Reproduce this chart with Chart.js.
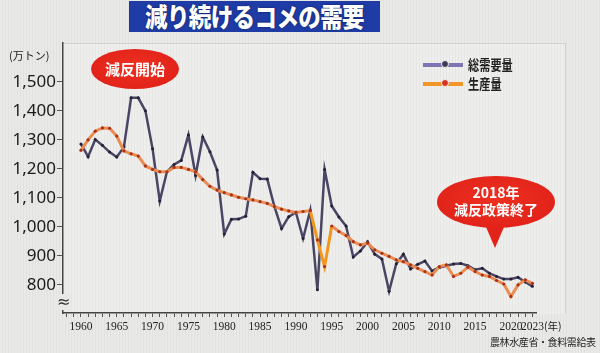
<!DOCTYPE html>
<html>
<head>
<meta charset="utf-8">
<script src="https://cdn.jsdelivr.net/npm/chart.js@4.4.0/dist/chart.umd.min.js"></script>
<style>
  html, body { margin: 0; padding: 0; }
  body {
    width: 600px; height: 353px; position: relative; overflow: hidden;
    background: repeating-linear-gradient(90deg, #e9e9e7 0 2px, #e1e1df 2px 3px);
    font-family: "Noto Sans CJK JP", "Noto Sans", sans-serif;
  }
  .panel { position: absolute; left: 63px; top: 43px; width: 502px; height: 270px;
    border-top: 1px solid #d2d2d0; border-right: 1px solid #d2d2d0;
    background: repeating-linear-gradient(90deg, #eeeeec 0 2px, #e6e6e4 2px 3px); }
  .title { position: absolute; left: 129px; top: 1px; width: 251px; height: 31px;
    background: #1f3ca6; color: #fff; text-align: center; font-weight: 900;
    font-size: 22.5px; line-height: 31px; letter-spacing: -0.6px; }
  .title span { display: inline-block; transform: scaleY(1.15); text-shadow: 0 0 2px #0a1a50; }
  #wrap { position: absolute; left: 0; top: 0; width: 600px; height: 353px; }
  .unit { position: absolute; left: 9px; top: 47px; font-size: 11px; color: #222; }
  .brk { position: absolute; left: 56px; top: 294px; font-size: 16px; line-height: 16px;
    color: #333; background: #e8e8e6; padding: 0 1px; font-family: "DejaVu Sans", sans-serif; }
  .nen { position: absolute; left: 544px; top: 318px; font-size: 10.5px; color: #222; }
  .src { position: absolute; left: 490px; top: 334px; font-size: 10px; color: #222; letter-spacing: -0.4px; white-space: nowrap; }
  .oval { position: absolute; left: 91px; top: 49px; width: 88px; height: 40px; border-radius: 50%;
    background: radial-gradient(ellipse at 50% 45%, #ee3020 0%, #e2231a 70%, #d41c14 100%);
    color: #fff; font-weight: 700; font-size: 15px; text-align: center; line-height: 40px; }
  .bubble { position: absolute; left: 437px; top: 176px; width: 118px; height: 52px; border-radius: 50%;
    background: radial-gradient(ellipse at 50% 45%, #ee3020 0%, #e2231a 70%, #d41c14 100%);
    color: #fff; font-weight: 700; font-size: 14px; text-align: center; line-height: 17px; }
  .bubble div:first-child { padding-top: 8px; }
  .tail { position: absolute; left: 483px; top: 220px; width: 24px; height: 28px; background: #e2231a;
    clip-path: polygon(0 0, 100% 0, 50% 100%); }
  .leg { position: absolute; left: 423px; font-size: 14px; color: #222; font-weight: 700; }
  .leg .ln { position: absolute; left: 0; top: 7px; width: 40px; height: 4px; }
  .leg .dt { position: absolute; left: 18px; top: 4px; width: 6px; height: 6px; border-radius: 50%; border: 1px solid #eee; }
  .leg .tx { position: absolute; left: 45px; top: -2px; white-space: nowrap; display: inline-block;
    transform: scaleX(0.8); transform-origin: left center; }
</style>
</head>
<body>
<div class="panel"></div>
<div class="title"><span>減り続けるコメの需要</span></div>
<div id="wrap"><canvas id="chart" width="600" height="353"></canvas></div>
<div class="unit">(万トン)</div>
<div class="brk">≈</div>
<div class="nen">(年)</div>
<div class="src">農林水産省・食料需給表</div>
<div class="oval">減反開始</div>
<div class="tail"></div>
<div class="bubble"><div>2018年</div><div>減反政策終了</div></div>
<div class="leg" style="top:56px"><div class="ln" style="background:#7e76b4"></div><div class="dt" style="background:#3e3a58"></div><div class="tx">総需要量</div></div>
<div class="leg" style="top:75px"><div class="ln" style="background:#f2962a"></div><div class="dt" style="background:#d8301e"></div><div class="tx">生産量</div></div>
<script>
const years = [];
for (let y = 1960; y <= 2023; y++) years.push(y);

// 総需要量 (purple line), 万トン
const demand = [
  1286, 1242, 1301, 1281, 1258, 1241, 1275, 1445, 1445, 1400,
  1269, 1089, 1190, 1215, 1229, 1317, 1177, 1310, 1259, 1196,
  975, 1026, 1027, 1037, 1188, 1166, 1165, 1070, 994, 1035,
  1050, 960, 1057, 783, 1198, 1072, 1034, 1003, 896, 917,
  949, 906, 889, 778, 873, 906, 855, 871, 882, 848,
  860, 866, 872, 874, 866, 852, 857, 840, 829, 820,
  820, 826, 810, 795
];

// 生産量 (orange line), 万トン
const production = [
  1264, 1300, 1330, 1341, 1340, 1313, 1262, 1252, 1244, 1210,
  1198, 1190, 1190, 1205, 1205, 1198, 1190, 1163, 1140, 1127,
  1118, 1110, 1102, 1097, 1093, 1087, 1081, 1070, 1061, 1055,
  1050, 1053, 1056, 955, 863, 1003, 984, 970, 949, 938,
  944, 921, 909, 898, 886, 880, 869, 857, 846, 834,
  863, 869, 829, 840, 861, 846, 834, 829, 815, 803,
  760, 800, 817, 805
];

const yTicks = [800, 900, 1000, 1100, 1200, 1300, 1400, 1500];
const xLabelYears = [1960, 1965, 1970, 1975, 1980, 1985, 1990, 1995, 2000, 2005, 2010, 2015, 2020, 2023];

const toPoints = (arr) => arr.map((v, i) => ({ x: years[i], y: v }));

new Chart(document.getElementById("chart"), {
  type: "line",
  data: {
    datasets: [
      {
        label: "生産量",
        data: toPoints(production),
        borderColor: "#e98d52",
        borderWidth: 3,
        pointRadius: 1.6,
        pointBackgroundColor: "#a8321c",
        pointBorderWidth: 0,
        tension: 0,
        segment: {
          borderColor: (ctx) => (ctx.p0.parsed.x >= 1992 && ctx.p1.parsed.x <= 1995) ? "#f2961e" : undefined,
        },
      },
      {
        label: "総需要量",
        data: toPoints(demand),
        borderColor: "#4a4563",
        borderWidth: 2.5,
        pointRadius: 1.5,
        pointBackgroundColor: "#241f36",
        pointBorderWidth: 0,
        tension: 0,
      },
    ],
  },
  options: {
    responsive: false,
    animation: false,
    layout: { padding: { top: 43, right: 64, left: 0, bottom: 0 } },
    plugins: { legend: { display: false }, tooltip: { enabled: false } },
    scales: {
      x: {
        type: "linear",
        min: 1957.5,
        max: 2023.5,
        afterFit: (s) => { s.height = 40; },
        afterBuildTicks: (s) => {
          const t = [];
          for (let y = 1958; y <= 2023; y++) t.push({ value: y });
          s.ticks = t;
        },
        ticks: {
          autoSkip: false,
          maxRotation: 0,
          padding: 3,
          color: "#222",
          font: { family: "Liberation Sans Narrow", size: 11.5 },
          callback: (v) => (xLabelYears.includes(v) ? String(v) : ""),
        },
        grid: { drawOnChartArea: false, tickLength: 4, color: "#555", lineWidth: 1 },
        border: { color: "#444", width: 1.5 },
      },
      y: {
        min: 703,
        max: 1634,
        afterFit: (s) => { s.width = 63; },
        afterBuildTicks: (s) => { s.ticks = yTicks.map((v) => ({ value: v })); },
        ticks: {
          padding: 1,
          color: "#1a1a1a",
          font: { family: "Noto Sans", size: 17 },
          callback: (v) => v.toLocaleString("en-US"),
        },
        grid: { drawOnChartArea: false, tickLength: 6, color: "#555", lineWidth: 1 },
        border: { color: "#444", width: 1.5 },
      },
    },
  },
});
</script>
</body>
</html>
